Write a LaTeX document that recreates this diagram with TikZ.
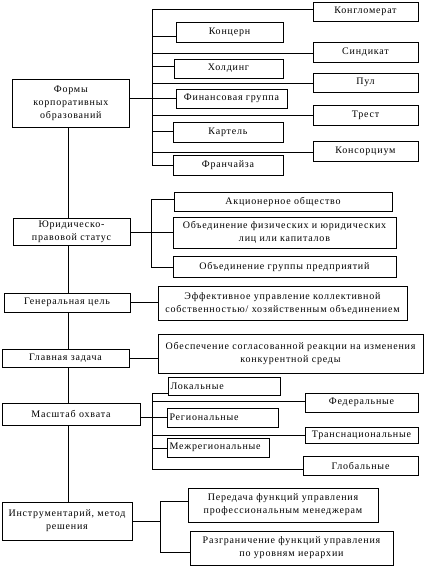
\documentclass[tikz,border=0pt]{standalone}
\usepackage{fontspec}
\setmainfont[LetterSpace=8]{Liberation Serif}
\newcommand\bx[7][]{%
  \node[box,#1,minimum width={#5pt-#3pt},minimum height={#6pt-#4pt}] (#2) at ({(#3+#5)/2},{(#4+#6)/2}) {#7};}
\begin{document}
\begin{tikzpicture}[x=1pt,y=-1pt,
  box/.style={draw,line width=0.9pt,inner sep=0pt,outer sep=0pt,align=center,
    font=\fontsize{10}{13}\selectfont},
  lbox/.style={text width={#1},align=left},
  ln/.style={line width=0.9pt}]
\useasboundingbox (0,0) rectangle (425,566);
% --- Формы корпоративных образований
\bx{forms}{12.7}{79}{129}{127}{Формы\\корпоративных\\образований}
\bx{konglo}{313}{2}{418}{21}{Конгломерат}
\bx{konc}{176}{22}{283}{42}{Концерн}
\bx{sind}{313}{42}{418}{62}{Синдикат}
\bx{hold}{174}{59}{283}{78}{Холдинг}
\bx{pul}{313}{73}{418}{92}{Пул}
\bx{fin}{176}{89}{287}{108}{Финансовая группа}
\bx{trest}{313}{105}{418}{125}{Трест}
\bx{kart}{173}{122}{283}{142}{Картель}
\bx{kons}{313}{141}{418}{161}{Консорциум}
\bx{fran}{173}{155}{283}{175}{Франчайза}
\coordinate (b1t) at (152,9);
\coordinate (b1b) at (152,165);
\draw[ln] (b1t) -- (b1b);
\draw[ln] (b1t) -- (b1t -| konglo.west);
\draw[ln] (b1t |- 0,36) coordinate (c1) -- (c1 -| konc.west);
\draw[ln] (b1t |- 0,53) coordinate (c2) -- (c2 -| sind.west);
\draw[ln] (b1t |- 0,66) coordinate (c3) -- (c3 -| hold.west);
\draw[ln] (b1t |- 0,83) coordinate (c4) -- (c4 -| pul.west);
\draw[ln] (forms.east |- 0,98) coordinate (c5) -- (c5 -| fin.west);
\draw[ln] (b1t |- 0,115) coordinate (c6) -- (c6 -| trest.west);
\draw[ln] (b1t |- 0,131) coordinate (c7) -- (c7 -| kart.west);
\draw[ln] (b1t |- 0,152) coordinate (c8) -- (c8 -| kons.west);
\draw[ln] (b1b) -- (b1b -| fran.west);
% --- Юридическо-правовой статус
\bx{jur}{13}{218}{130}{245}{Юридическо-\\правовой статус}
\bx{ao}{174}{192}{392}{211}{Акционерное общество}
\bx{obf}{173}{217}{396}{248}{Объединение физических и юридических\\лиц или капиталов}
\bx{obg}{173}{256}{396}{277}{Объединение группы предприятий}
\coordinate (b2t) at (151,199);
\coordinate (b2b) at (151,267);
\draw[ln] (b2t) -- (b2b);
\draw[ln] (b2t) -- (b2t -| ao.west);
\draw[ln] (jur.east |- 0,232) coordinate (d1) -- (d1 -| obf.west);
\draw[ln] (b2b) -- (b2b -| obg.west);
% --- Генеральная цель
\bx{gen}{4}{293}{130}{312}{Генеральная цель}
\bx{eff}{158}{286}{407}{320}{Эффективное управление коллективной\\собственностью/ хозяйственным объединением}
\draw[ln] (gen.east |- 0,302) coordinate (e1) -- (e1 -| eff.west);
% --- Главная задача
\bx{glav}{2}{349}{129}{367}{Главная задача}
\bx{obes}{158}{334}{423}{373}{Обеспечение согласованной реакции на изменения\\конкурентной среды}
\draw[ln] (glav.east |- 0,358) coordinate (f1) -- (f1 -| obes.west);
% --- Масштаб охвата
\bx{masht}{2}{403}{140}{425}{Масштаб охвата}
\bx[lbox=107pt]{lok}{168}{377}{280}{395}{Локальные}
\bx{fed}{305}{393}{418}{412}{Федеральные}
\bx[lbox=106pt]{reg}{167}{408}{278}{427}{Региональные}
\bx{tran}{305}{427}{418}{443}{Транснациональные}
\bx[lbox=97pt]{mezh}{167}{438}{269}{457}{Межрегиональные}
\bx{glob}{303}{456}{418}{475}{Глобальные}
\coordinate (b3t) at (152,393);
\coordinate (b3b) at (152,469);
\draw[ln] (b3t) -- (b3b);
\draw[ln] (b3t) -- (b3t -| lok.west);
\draw[ln] (b3t |- 0,401) coordinate (g1) -- (g1 -| fed.west);
\draw[ln] (masht.east |- 0,417) coordinate (g2) -- (g2 -| reg.west);
\draw[ln] (b3t |- 0,435) coordinate (g3) -- (g3 -| tran.west);
\draw[ln] (b3t |- 0,448) coordinate (g4) -- (g4 -| mezh.west);
\draw[ln] (b3b) -- (b3b -| glob.west);
% --- Инструментарий
\bx{instr}{2}{502}{132}{540}{Инструментарий, метод\\решения}
\bx{per}{188}{488}{378}{522}{Передача функций управления\\профессиональным менеджерам}
\bx{razg}{190}{531}{393}{565}{Разграничение функций управления\\по уровням иерархии}
\coordinate (b4t) at (160,501);
\coordinate (b4b) at (160,552);
\draw[ln] (b4t) -- (b4b);
\draw[ln] (instr.east |- 0,521) coordinate (h1) -- (h1 -| b4t);
\draw[ln] (b4t) -- (b4t -| per.west);
\draw[ln] (b4b) -- (b4b -| razg.west);
% --- trunk
\coordinate (tr) at (68,0);
\draw[ln] (tr |- forms.south) -- (tr |- jur.north);
\draw[ln] (tr |- jur.south) -- (tr |- gen.north);
\draw[ln] (tr |- gen.south) -- (tr |- glav.north);
\draw[ln] (tr |- glav.south) -- (tr |- masht.north);
\draw[ln] (tr |- masht.south) -- (tr |- instr.north);
\end{tikzpicture}
\end{document}
